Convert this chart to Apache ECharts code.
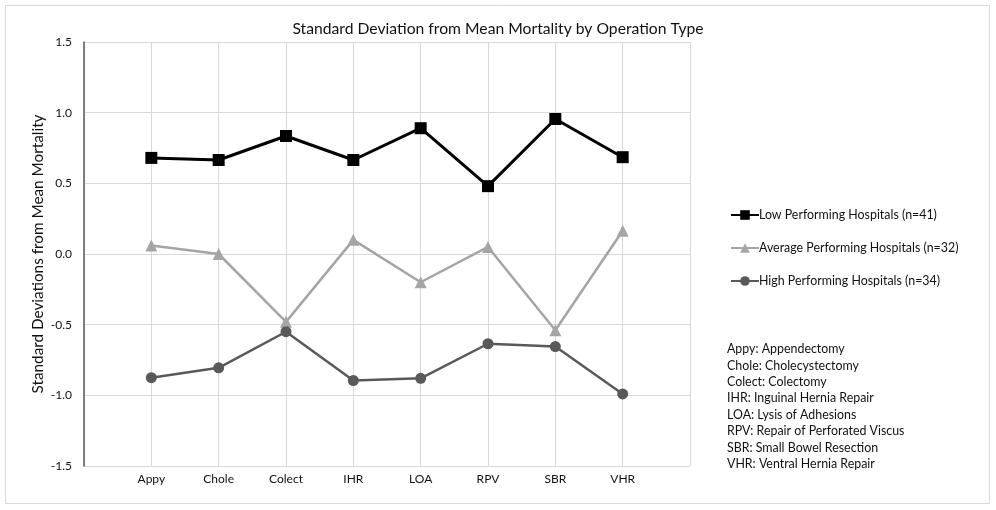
<!DOCTYPE html>
<html><head><meta charset="utf-8">
<script src="https://cdn.jsdelivr.net/npm/echarts@6/dist/echarts.min.js"></script>
<style>html,body{margin:0;padding:0;background:#fff}#c{width:996px;height:510px}</style>
</head><body><div id="c"></div>
<script>
const categories = ['Appy','Chole','Colect','IHR','LOA','RPV','SBR','VHR'];
const lowPerforming = [0.68, 0.665, 0.835, 0.665, 0.89, 0.48, 0.955, 0.685];
const averagePerforming = [0.06, 0.0, -0.48, 0.10, -0.20, 0.05, -0.54, 0.165];
const highPerforming = [-0.875, -0.805, -0.55, -0.895, -0.88, -0.635, -0.655, -0.99];
const seriesNames = ['Low Performing Hospitals (n=41)','Average Performing Hospitals (n=32)','High Performing Hospitals (n=34)'];
const yTicks = [-1.5, -1.0, -0.5, 0.0, 0.5, 1.0, 1.5];
const abbreviations = ['Appy: Appendectomy','Chole: Cholecystectomy','Colect: Colectomy','IHR: Inguinal Hernia Repair','LOA: Lysis of Adhesions','RPV: Repair of Perforated Viscus','SBR: Small Bowel Resection','VHR: Ventral Hernia Repair'];

const FONT = 'Lato, "Open Sans", sans-serif';
const TXT = '#111';
const toPts = arr => arr.map((v, i) => [i + 1, v]);

const chart = echarts.init(document.getElementById('c'), null, {renderer: 'canvas'});
chart.setOption({
  animation: false,
  backgroundColor: '#fff',
  textStyle: {fontFamily: FONT},
  title: {
    text: 'Standard Deviation from Mean Mortality by Operation Type',
    left: 'center', top: 16,
    textStyle: {fontFamily: FONT, fontSize: 15.7, fontWeight: 'normal', color: TXT}
  },
  graphic: [
    {type: 'rect', shape: {x: 5.5, y: 5.5, width: 984, height: 498}, style: {fill: 'none', stroke: '#d9d9d9', lineWidth: 1}, silent: true, z: -10},
    {type: 'text', left: 727, top: 341, style: {text: abbreviations.join('\n'), fontFamily: FONT, fontSize: 12.4, lineHeight: 16.4, fill: TXT}}
  ],
  legend: {
    orient: 'vertical', left: 725, top: 204, itemGap: 21,
    itemWidth: 28, itemHeight: 12,
    textStyle: {fontFamily: FONT, fontSize: 12.4, color: TXT, padding: [0,0,0,-5]},
    data: seriesNames
  },
  grid: {left: 84, right: 306, top: 42, bottom: 44, containLabel: false},
  xAxis: {
    type: 'value', min: 0, max: 9, interval: 1,
    axisLine: {show: false},
    axisTick: {show: false},
    splitLine: {show: true, lineStyle: {color: '#d9d9d9', width: 1}},
    axisLabel: {
      fontFamily: FONT, fontSize: 12, color: TXT, margin: 7,
      formatter: v => (v >= 1 && v <= categories.length) ? categories[v - 1] : ''
    }
  },
  yAxis: {
    type: 'value', min: yTicks[0], max: yTicks[yTicks.length - 1], interval: 0.5,
    name: 'Standard Deviations from Mean Mortality',
    nameLocation: 'middle', nameGap: 38, nameMoveOverlap: false,
    nameTextStyle: {fontFamily: FONT, fontSize: 15.3, color: TXT},
    axisLine: {show: true, onZero: false, lineStyle: {color: '#595959', width: 1.5}},
    axisTick: {show: false},
    splitLine: {show: true, lineStyle: {color: '#d9d9d9', width: 1}},
    axisLabel: {fontFamily: FONT, fontSize: 12, color: TXT, margin: 12, formatter: v => v.toFixed(1)}
  },
  series: [
    {name: seriesNames[0], type: 'line', data: toPts(lowPerforming), symbol: 'rect', symbolSize: 12,
     itemStyle: {color: '#000'}, lineStyle: {color: '#000', width: 3}, z: 3},
    {name: seriesNames[1], type: 'line', data: toPts(averagePerforming), symbol: 'triangle', symbolSize: 12,
     itemStyle: {color: '#a5a5a5'}, lineStyle: {color: '#a5a5a5', width: 2.5}, z: 2},
    {name: seriesNames[2], type: 'line', data: toPts(highPerforming), symbol: 'circle', symbolSize: 11,
     itemStyle: {color: '#595959'}, lineStyle: {color: '#595959', width: 2.5}, z: 2}
  ]
});
</script></body></html>
